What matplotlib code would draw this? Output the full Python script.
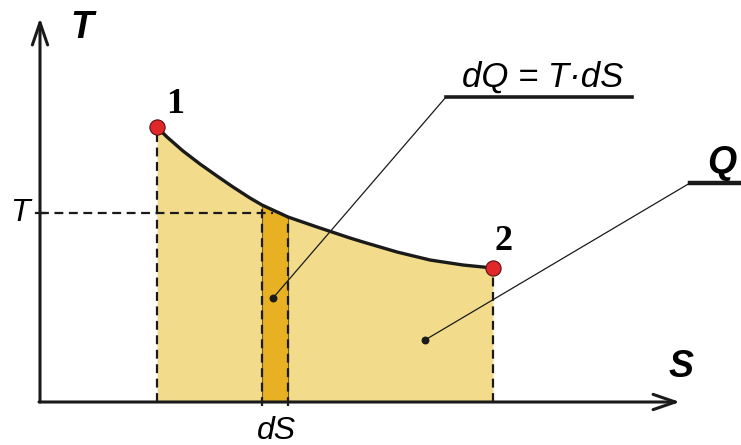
import numpy as np
from matplotlib import pyplot as plt

# process curve 1 -> 2 (S, T in arbitrary units)
curve_S = [1.17, 1.27, 1.43, 1.60, 1.77, 1.93, 2.10, 2.22, 2.48,
           2.77, 3.10, 3.23, 3.57, 3.90, 4.23, 4.53]
curve_T = [2.75, 2.65, 2.51, 2.38, 2.26, 2.15, 2.04, 1.97, 1.85,
           1.75, 1.64, 1.60, 1.50, 1.42, 1.37, 1.34]
strip_idx = (7, 8)            # dS strip between these curve points
T_level = 1.89
point_labels = ["1", "2"]
eq_text = "dQ = T\u00b7dS"
q_text = "Q"

fill_col = "#F2DC8C"
strip_col = "#E8B124"
red = "#E0282A"

S = np.array(curve_S)
T = np.array(curve_T)

fig = plt.figure(figsize=(7.41, 4.45), dpi=100)
ax = fig.add_axes([0, 0, 1, 1])
ax.set_xlim(-0.40, 7.01)
ax.set_ylim(-0.43, 4.02)
ax.axis("off")

# area under curve
ax.fill_between(S, 0, T, color=fill_col, lw=0, zorder=1)
i0, i1 = strip_idx
ax.fill_between(S[i0:i1 + 1], 0, T[i0:i1 + 1], facecolor=strip_col,
                edgecolor="#6b5a20", lw=0.8, zorder=2)

# dashed guides
dash = dict(color="#1a1a1a", lw=1.6, ls=(0, (4, 2.5)), zorder=3)
ax.plot([S[0], S[0]], [0, T[0]], **dash)
ax.plot([S[-1], S[-1]], [0, T[-1]], **dash)
ax.plot([S[i0], S[i0]], [-0.04, T[i0]], **dash)
ax.plot([S[i1], S[i1]], [-0.04, T[i1]], **dash)
ax.plot([0, 2.33], [T_level, T_level], **dash)
ax.plot([-0.04, 0.05], [T_level, T_level], color="#1a1a1a", lw=1.6)

# the curve and end points
ax.plot(S, T, color="#1a1a1a", lw=2.4, zorder=4, solid_joinstyle="round")
ax.scatter([S[0], S[-1]], [T[0], T[-1]], s=120, color=red,
           edgecolor="#5a1010", lw=0.8, zorder=5)

# axes with open arrows
arr = dict(arrowstyle="->,head_length=16,head_width=5.5", color="#1a1a1a",
           lw=2.2, mutation_scale=1, shrinkA=0, shrinkB=0)
ax.annotate("", xy=(0, 3.84), xytext=(0, 0), arrowprops=arr, zorder=6)
ax.annotate("", xy=(6.40, 0), xytext=(-0.01, 0), arrowprops=arr, zorder=6)

# leader lines
ax.plot([2.33, 4.06], [1.04, 3.05], color="#1a1a1a", lw=0.9, zorder=6)
ax.plot([4.06, 5.92], [3.05, 3.05], color="#1a1a1a", lw=2.6, zorder=6)
ax.plot([3.85, 6.50], [0.62, 2.19], color="#1a1a1a", lw=0.9, zorder=6)
ax.plot([6.50, 7.05], [2.19, 2.19], color="#1a1a1a", lw=3.2, zorder=6)
ax.scatter([2.33, 3.85], [1.04, 0.62], s=22, color="#1a1a1a", zorder=7)

# texts
sans = "Liberation Sans"
ax.text(0.42, 3.74, "T", fontsize=27, fontweight="bold", style="italic",
        family=sans, ha="center", va="center")
ax.text(6.41, 0.35, "S", fontsize=27, fontweight="bold", style="italic",
        family=sans, ha="center", va="center")
ax.text(-0.20, 1.89, "T", fontsize=23, style="italic", family=sans,
        ha="center", va="center")
ax.text(2.36, -0.37, "dS", fontsize=23, style="italic", family=sans,
        ha="center", va="baseline")
ax.text(5.03, 3.155, eq_text, fontsize=25, style="italic", family=sans,
        ha="center", va="baseline")
ax.text(6.82, 2.39, q_text, fontsize=27, fontweight="bold", style="italic",
        family=sans, ha="center", va="center")
ax.text(1.35, 2.97, point_labels[0], fontsize=26, fontweight="bold",
        family="Liberation Serif", ha="center", va="center")
ax.text(4.64, 1.60, point_labels[1], fontsize=26, fontweight="bold",
        family="Liberation Serif", ha="center", va="center")

fig.savefig("out.png", dpi=100)
